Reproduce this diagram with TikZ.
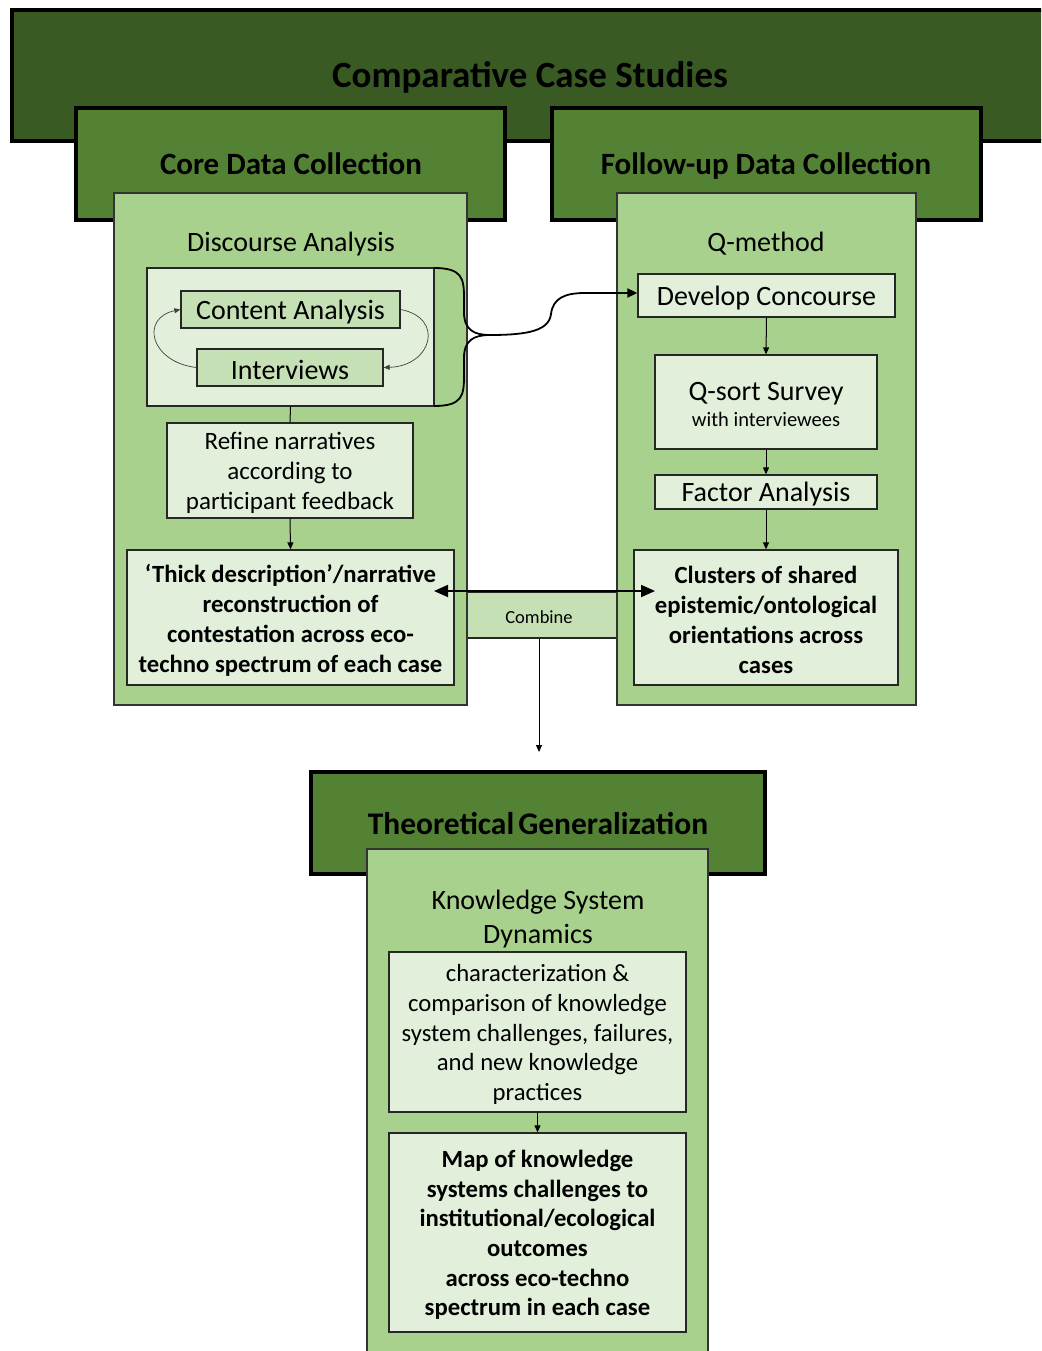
\documentclass[tikz,border=0pt]{standalone}
\usepackage{fontspec}
\setmainfont{Carlito}
\usetikzlibrary{arrows.meta}
\definecolor{dkg}{HTML}{3A5A24}
\definecolor{mdg}{HTML}{548235}
\definecolor{ltg}{HTML}{A9D18E}
\definecolor{pale}{HTML}{E2EFDA}
\definecolor{midg}{HTML}{C5E0B4}
% name, box style, x1, y1, x2, y2, text style, text
\newcommand\rbox[8]{\node[#2, minimum width={(#5-#3)*1pt}, minimum height={(#6-#4)*1pt}] (#1) at ({(#3+#5)/2},{(#4+#6)/2}) {};
\node[lbl, #7, yshift=-2.5pt] (#1T) at (#1.center) {#8};}
\newcommand\fs[2]{\fontsize{#1}{#2}\selectfont}
\tikzset{
 banner/.style={draw=black, line width=3.5pt, inner sep=0pt},
 panel/.style={draw=black!80, line width=1.3pt, fill=ltg, inner sep=0pt},
 box/.style={draw=black!85, line width=1.3pt, fill=pale, inner sep=0pt},
 midbox/.style={draw=black!85, line width=1.3pt, fill=midg, inner sep=0pt},
 lbl/.style={inner sep=0pt, align=center},
 arr/.style={line width=1pt, -{Triangle[length=7pt,width=6pt]}},
 thin/.style={draw=black!75, line width=0.7pt},
 bigarr/.style={line width=1.8pt, {Triangle[length=14pt,width=12pt]}-{Triangle[length=14pt,width=12pt]}},
 curvy/.style={line width=1.8pt}
}
\begin{document}
\begin{tikzpicture}[x=1pt,y=-1pt]
\useasboundingbox (0,0) rectangle (1041,1351);
\clip (0,0) rectangle (1041,1351);
% top banner
\rbox{ccs}{banner, fill=dkg}{12}{10}{1070}{141}{}{}
\node[lbl, font=\fs{37}{44}\bfseries, anchor=base] (ccsL) at (530,88) {Comparative Case Studies};
\rbox{core}{banner, fill=mdg}{76}{108}{505}{220}{}{}
\node[lbl, font=\fs{31}{36}\bfseries, anchor=base] (coreL) at (291,175) {Core Data Collection};
\rbox{fol}{banner, fill=mdg}{552}{108}{981}{220}{}{}
\node[lbl, font=\fs{31}{36}\bfseries, anchor=base] (folL) at (766,175) {Follow-up Data Collection};
% combine
\rbox{comb}{midbox}{467}{592}{617}{638}{font=\fs{18.5}{22}, xshift=-3pt}{Combine}
% panels
\rbox{lp}{panel}{114}{193}{467}{705}{}{}
\rbox{rp}{panel}{617}{193}{916}{705}{}{}
\node[lbl, font=\fs{28}{34}, anchor=base] (daL) at (291,251) {Discourse Analysis};
\node[lbl, font=\fs{28}{34}, anchor=base] (qmL) at (766,251) {Q-method};
% left column
\rbox{inner}{box}{147}{268}{434}{406}{}{}
\rbox{ca}{midbox}{181}{291}{400}{328}{font=\fs{28}{34}}{Content Analysis}
\rbox{iv}{midbox}{197}{349}{383}{386}{font=\fs{28}{34}}{Interviews}
\draw[thin, -{Triangle[length=6pt,width=5pt]}] (ca.east) .. controls (445,318) and (432,366) .. (iv.east);
\draw[thin, -{Triangle[length=6pt,width=5pt]}] (iv.west) .. controls (150,362) and (140,318) .. (ca.west);
\rbox{ref}{box}{167}{423}{413}{518}{font=\fs{25}{30}}{Refine narratives\\according to\\participant feedback}
\rbox{thick}{box}{127}{550}{454}{685}{font=\fs{24.7}{30}\bfseries}{`Thick description'/narrative\\reconstruction of\\contestation across eco-\\techno spectrum of each case}
\draw[line width=1pt] (inner.south) -- (ref.north);
\draw[arr] (ref.south) -- (thick.north);
% right column
\rbox{dev}{box}{638}{274}{895}{317}{font=\fs{28}{34}}{Develop Concourse}
\rbox{qs}{box}{655}{355}{877}{449}{}{}
\node[lbl, font=\fs{28}{34}, anchor=base] (qsL) at (766,400) {Q-sort Survey};
\node[lbl, font=\fs{20.5}{24}, anchor=base] (qsS) at (766,426) {with interviewees};
\rbox{fa}{box}{655}{475}{877}{509}{font=\fs{28}{34}}{Factor Analysis}
\rbox{cl}{box}{634}{550}{898}{685}{font=\fs{24.7}{30}\bfseries}{Clusters of shared\\epistemic/ontological\\orientations across\\cases}
\draw[arr] (dev.south) -- (qs.north);
\draw[arr] (qs.south) -- (fa.north);
\draw[arr] (fa.south) -- (cl.north);
% brace connector
\coordinate (btip) at (490,335);
\coordinate (bt) at (434,268);
\coordinate (bb) at (434,406);
\draw[curvy] (bt) .. controls (462,268) and (464,278) .. (464,298) -- (464,312) .. controls (464,330) and (474,335) .. (btip);
\draw[curvy] (bb) .. controls (462,406) and (464,396) .. (464,376) -- (464,358) .. controls (464,340) and (474,335) .. (btip);
\draw[curvy, -{Triangle[length=10pt,width=9pt]}] (btip) .. controls (530,335) and (549,330) .. (551,314) .. controls (553,298) and (565,293) .. (585,293) -- (dev.west |- 0,293);
% combine arrows
\coordinate (al) at (434,591);
\coordinate (ar) at (655,591);
\draw[bigarr] (al) -- (ar);
\coordinate (down) at (539,752);
\draw[arr] (comb.south -| down) -- (down);
% bottom
\rbox{tg}{banner, fill=mdg}{311}{772}{765}{874}{}{}
\node[lbl, font=\fs{31.5}{36}\bfseries, anchor=base] (tgL) at (538,834) {Theoretical\hspace{-3pt} Generalization};
\rbox{bp}{panel}{367}{849}{708}{1380}{}{}
\node[lbl, font=\fs{28}{34}] (ksL) at (538,919.5) {Knowledge System\\Dynamics};
\rbox{char}{box}{389}{952}{686}{1112}{font=\fs{24.7}{29.7}}{characterization \&\\comparison of knowledge\\system challenges, failures,\\and new knowledge\\practices}
\rbox{map}{box}{389}{1133}{686}{1332}{font=\fs{24.7}{29.7}\bfseries}{Map of knowledge\\systems challenges to\\institutional/ecological\\outcomes\\across eco-techno\\spectrum in each case}
\draw[arr] (char.south) -- (map.north);
\end{tikzpicture}
\end{document}
